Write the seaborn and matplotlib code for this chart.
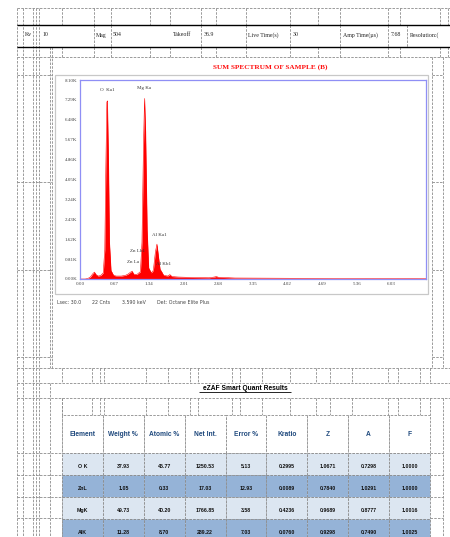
import numpy as np
import pandas as pd
import matplotlib
matplotlib.use("Agg")
import matplotlib.pyplot as plt
import seaborn as sns
from matplotlib.patches import Rectangle

sns.set_theme(style="white")
plt.rcParams['font.family'] = ['DejaVu Sans']

# ---------------- data ----------------
energy_kev = [0.00, 0.10, 0.15, 0.20, 0.25, 0.28, 0.31, 0.35, 0.40, 0.45, 0.48, 0.50,
              0.52, 0.53, 0.55, 0.57, 0.60, 0.65, 0.70, 0.80, 0.88, 0.93, 0.98, 1.01,
              1.04, 1.10, 1.17, 1.20, 1.23, 1.25, 1.27, 1.30, 1.33, 1.38, 1.42, 1.46,
              1.49, 1.52, 1.55, 1.58, 1.62, 1.70, 1.74, 1.78, 1.90, 2.20, 2.50, 2.60,
              2.64, 2.68, 3.00, 4.00, 5.00, 6.70]
counts = [0, 0, 20, 80, 220, 280, 180, 120, 140, 250, 1200, 4500,
          7200, 7250, 5000, 1500, 350, 150, 120, 120, 150, 200, 280, 320,
          200, 180, 300, 1500, 5500, 7350, 6000, 2000, 450, 250, 350, 1100,
          1420, 900, 400, 300, 150, 120, 180, 100, 80, 60, 50, 80,
          100, 70, 40, 30, 20, 10]

peak_labels = ["O  Ka1", "Mg Ka", "Al Ka1", "Zn Lb1", "Zn La", "Al Kb1"]
peak_label_energy = [0.53, 1.25, 1.53, 1.11, 1.03, 1.62]
peak_label_counts = [7600, 7700, 1700, 1050, 600, 510]

x_ticks = [0.00, 0.67, 1.34, 2.01, 2.68, 3.35, 4.02, 4.69, 5.36, 6.03]
y_ticks = [0, 810, 1620, 2430, 3240, 4050, 4860, 5670, 6480, 7290, 8100]

header_labels = ["Kv", "10", "Mag", "504", "Takeoff", "36.9", "Live Time(s)", "30",
                 "Amp Time(\u00b5s)", "7.68", "Resolution:("]
footer_labels = ["Lsec: 30.0", "22 Cnts", "3.590 keV", "Det: Octane Elite Plus"]

columns = ["Element", "Weight %", "Atomic %", "Net Int.", "Error %", "Kratio", "Z", "A", "F"]
elements = ["O K", "ZnL", "MgK", "AlK"]
weight_pct = ["37.93", "1.05", "49.73", "11.28"]
atomic_pct = ["46.77", "0.33", "40.20", "8.70"]
net_int = ["1250.53", "17.03", "1766.85", "289.22"]
error_pct = ["5.13", "12.93", "3.58", "7.03"]
kratio = ["0.2995", "0.0089", "0.4236", "0.0760"]
z_corr = ["1.0671", "0.7840", "0.9689", "0.9298"]
a_corr = ["0.7298", "1.0291", "0.8777", "0.7490"]
f_corr = ["1.0000", "1.0000", "1.0016", "1.0025"]

# ---------------- figure ----------------
W, H = 450, 537
fig = plt.figure(figsize=(W / 100, H / 100), dpi=100)
fig.patch.set_facecolor("white")

def frac(x0, y0, x1, y1):
    return [x0 / W, 1 - y1 / H, (x1 - x0) / W, (y1 - y0) / H]

bg = fig.add_axes([0, 0, 1, 1])
bg.set_xlim(0, W)
bg.set_ylim(H, 0)
bg.axis("off")

dash = dict(color="#8c8c8c", lw=0.6, ls=(0, (3, 1.5)))
# vertical cell gridlines
for x in [17, 23, 33, 36, 39]:
    bg.vlines(x, 8, H, **dash)
for x in [50, 52]:
    bg.vlines(x, 47, 368, **dash)
bg.vlines(50, 383, H, **dash)
bg.vlines(62, 398, H, **dash)
bg.vlines(432, 57, 368, **dash)
bg.vlines(443, 57, 368, **dash)
bg.vlines(443, 398, H, **dash)
for x in [62, 94, 111, 150, 170, 201, 216, 246, 290, 318, 340, 388, 400, 440, 448]:
    bg.vlines(x, 8, 25, **dash)
    bg.vlines(x, 47, 57, **dash)
for x in [94, 111, 201, 246, 290, 340, 388, 407]:
    bg.vlines(x, 25, 47, **dash)
for x in [62, 92, 100, 104, 146, 168, 190, 198, 232, 240, 262, 290, 316, 330, 352, 388, 398, 420, 430]:
    bg.vlines(x, 368, 383, **dash)
    bg.vlines(x, 398, 415, **dash)
# horizontal gridlines
for y in [8, 57, 368, 383, 398]:
    bg.hlines(y, 17, 450, **dash)
for y in [75, 182, 270, 357]:
    bg.hlines(y, 17, 52, **dash)
    bg.hlines(y, 432, 443, **dash)
for y in [453, 475, 497, 518]:
    bg.hlines(y, 17, 62, **dash)
    bg.hlines(y, 430, 443, **dash)

# header band
bg.hlines([25, 47], 17, 450, color="black", lw=1.0)
header_x = [25, 43, 96, 113, 173, 204, 248, 293, 343, 391, 410]
for lab, x in zip(header_labels, header_x):
    bg.text(x, 35, lab, fontsize=4.2, family="Liberation Serif", va="center", ha="left",
            color="#222222")

# title
bg.text(270, 67, "SUM SPECTRUM OF SAMPLE (B)", fontsize=5.2, family="Liberation Serif",
        fontweight="bold", color="#ff1010", ha="center", va="center")

# chart frame
bg.add_patch(Rectangle((55, 75), 373, 219, fill=False, edgecolor="#c8c8c8", lw=0.9))

# spectrum
ax = fig.add_axes(frac(80, 80, 426, 279))
df = pd.DataFrame({"energy": energy_kev, "counts": counts})
sns.lineplot(data=df, x="energy", y="counts", color="red", lw=0.4, ax=ax)
ax.fill_between(df["energy"], df["counts"], color="red", lw=0)
ax.set_xlim(0, 6.7)
ax.set_ylim(0, 8100)
ax.set_xticks(x_ticks)
ax.set_xticklabels([f"{v:.2f}" for v in x_ticks])
ax.set_yticks(y_ticks)
ax.set_yticklabels([f"{v/1000:.2f}K" for v in y_ticks])
ax.tick_params(axis="both", length=0, labelsize=3.6, colors="#444444", pad=2)
for lab in ax.get_xticklabels() + ax.get_yticklabels():
    lab.set_family("Liberation Serif")
ax.set_xlabel("")
ax.set_ylabel("")
for s in ax.spines.values():
    s.set_color("#8f8ff5")
    s.set_linewidth(0.9)
for lab, e, c in zip(peak_labels, peak_label_energy, peak_label_counts):
    ax.text(e, c, lab, fontsize=3.6, color="#333333", ha="center", va="bottom",
            family="Liberation Serif")

footer_x = [57, 92, 122, 157]
for lab, x in zip(footer_labels, footer_x):
    bg.text(x, 303, lab, fontsize=3.4, color="#444444", ha="left", va="center")

# results title
bg.text(245, 388, "eZAF Smart Quant Results", fontsize=4.8, fontweight="bold",
        color="black", ha="center", va="center", family="Liberation Sans")
bg.hlines(391.5, 199, 291, color="black", lw=0.6)

# table
tax = fig.add_axes(frac(62, 415, 430, 541))
tax.axis("off")
rows = list(zip(elements, weight_pct, atomic_pct, net_int, error_pct, kratio, z_corr, a_corr, f_corr))
light, dark = "#dce6f1", "#95b3d7"
cell_colors = [[light if i % 2 == 0 else dark] * len(columns) for i in range(len(rows))]
tbl = tax.table(cellText=rows, colLabels=columns, cellColours=cell_colors,
                cellLoc="center", bbox=[0, 0, 1, 1])
tbl.auto_set_font_size(False)
for (r, c), cell in tbl.get_celld().items():
    cell.set_edgecolor("#8c8c8c")
    cell.set_linestyle((0, (3, 1.5)))
    cell.set_linewidth(0.6)
    if r == 0:
        cell.set_height(38)
        cell.set_facecolor("white")
        cell.get_text().set_color("#1f497d")
        cell.get_text().set_fontsize(4.8)
        cell.get_text().set_fontweight("bold")
        cell.get_text().set_family("Liberation Sans")
    else:
        cell.set_height(22)
        cell.get_text().set_color("#111111")
        cell.get_text().set_fontsize(3.8)
        cell.get_text().set_fontweight("bold")
        cell.get_text().set_family("Liberation Sans")
        cell.get_text().set_va("top")

fig.savefig("out.png", dpi=100)
